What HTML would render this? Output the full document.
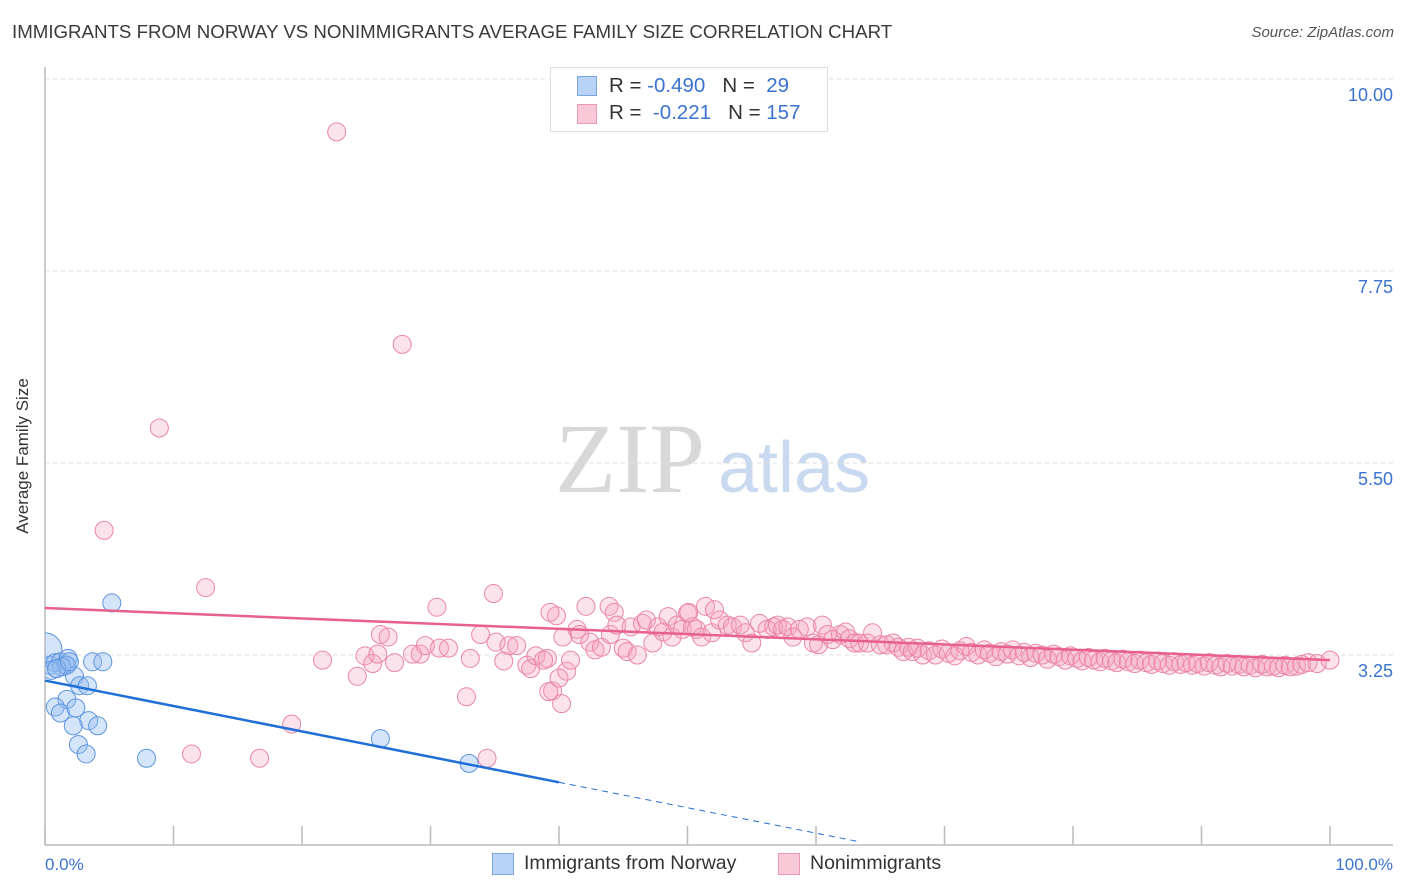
<!DOCTYPE html>
<html><head><meta charset="utf-8"><style>
body{margin:0;background:#fff;font-family:"Liberation Sans",sans-serif;}
#wrap{position:relative;width:1406px;height:892px;overflow:hidden;}
.t{position:absolute;white-space:nowrap;}
</style></head><body>
<div id="wrap">
<div class="t" style="left:12px;top:21px;font-size:18.7px;color:#3a3a3a;">IMMIGRANTS FROM NORWAY VS NONIMMIGRANTS AVERAGE FAMILY SIZE CORRELATION CHART</div>
<div class="t" style="right:12px;top:24px;font-size:15px;color:#555;font-style:italic;">Source: ZipAtlas.com</div>
<svg id="svg" width="1406" height="892" style="position:absolute;left:0;top:0">
<defs><clipPath id="clip"><rect x="45" y="60" width="1360" height="785"/></clipPath></defs>
<text x="555" y="492" font-family="Liberation Serif,serif" font-size="100" fill="#d8d8d8">ZIP</text>
<text x="718" y="492" font-family="Liberation Sans,sans-serif" font-size="72" fill="#c8d9f0">atlas</text>
<g id="grid"></g><g id="axes"></g><g id="pts" clip-path="url(#clip)"></g><g id="trend"></g>
<text x="28" y="456" transform="rotate(-90 28 456)" text-anchor="middle" font-size="17" fill="#333">Average Family Size</text>
<text x="45" y="870" font-size="17" fill="#3b73d0">0.0%</text>
<text x="1393" y="870" text-anchor="end" font-size="17" fill="#3b73d0">100.0%</text>
</svg>
<div style="position:absolute;left:550px;top:67px;width:276px;height:63px;border:1px solid #ddd;background:#fff;font-size:20.5px;">
 <div style="position:absolute;left:26px;top:8px;width:18px;height:18px;background:#b9d3f6;border:1px solid #7aa6e6;"></div>
 <div class="t" style="left:58px;top:6px;color:#333;">R = <span style="color:#3b73d0">-0.490</span>&nbsp;&nbsp;&nbsp;N = &nbsp;<span style="color:#3b73d0">29</span></div>
 <div style="position:absolute;left:26px;top:36px;width:18px;height:18px;background:#f9c9d8;border:1px solid #ee9ab6;"></div>
 <div class="t" style="left:58px;top:33px;color:#333;">R = &nbsp;<span style="color:#3b73d0">-0.221</span>&nbsp;&nbsp;&nbsp;N = <span style="color:#3b73d0">157</span></div>
</div>
<div style="position:absolute;left:492px;top:853px;width:20px;height:20px;background:#b9d3f6;border:1px solid #7aa6e6;"></div>
<div class="t" style="left:524px;top:852px;font-size:19.5px;color:#333;">Immigrants from Norway</div>
<div style="position:absolute;left:778px;top:853px;width:20px;height:20px;background:#f9c9d8;border:1px solid #ee9ab6;"></div>
<div class="t" style="left:810px;top:852px;font-size:19.5px;color:#333;">Nonimmigrants</div>
</div>
<script>
const yTicks=[10.00,7.75,5.50,3.25];
const yTickLabels=["10.00","7.75","5.50","3.25"];
const xTicks=[0,10,20,30,40,50,60,70,80,90,100];
const blueX=[0,0.4,0.8,1.2,1.6,1.8,1.7,2.3,2.7,3.3,1.7,0.8,1.2,2.4,3.4,4.1,2.2,2.6,3.2,5.2,3.7,4.5,7.9,26.1,33.0,1.3,0.5,0.9,1.9];
const blueY=[3.31,3.13,3.16,3.17,3.13,3.21,3.13,3.00,2.89,2.89,2.73,2.64,2.57,2.63,2.48,2.42,2.42,2.20,2.09,3.86,3.17,3.17,2.04,2.27,1.98,3.11,3.07,3.09,3.17];
const pinkX=[22.7,27.8,8.9,4.6,12.5,30.5,34.9,39.8,43.9,21.6,24.3,19.2,11.4,16.7,34.4,32.8,39.5,40.2,
24.9,25.5,25.9,26.1,26.7,27.2,28.6,29.2,29.6,30.7,31.4,33.1,33.9,35.1,35.7,36.1,36.7,37.5,37.8,38.2,39.1,
39.3,40.3,38.8,40.0,40.6,40.9,39.2,41.4,41.6,42.1,42.4,42.8,43.3,44.0,44.3,44.5,45.0,45.3,45.6,46.1,46.5,46.8,47.3,47.7,48.1,48.5,48.8,49.2,49.6,50.0,50.1,50.4,50.7,51.1,51.4,51.9,52.1,52.5,53.1,53.5,54.1,54.5,55.0,55.6,56.2,56.7,57.0,57.4,57.8,58.2,58.7,59.3,59.8,60.2,60.5,60.9,61.3,61.9,62.3,62.6,63.0,63.4,64.0,64.4,65.0,65.5,66.0,66.4,66.8,67.2,67.5,67.9,68.3,
68.8,69.3,69.8,70.3,70.8,71.2,71.7,72.1,72.6,73.1,73.5,74.0,74.4,74.9,75.3,75.8,76.2,76.7,77.1,77.6,78.0,78.5,78.9,79.4,79.8,80.3,80.7,81.2,81.6,82.1,82.5,83.0,83.4,83.9,84.3,84.8,85.2,85.7,86.1,86.6,87.0,87.5,87.9,88.4,88.8,89.3,89.7,90.2,90.6,91.1,91.5,92.0,92.4,92.9,93.3,93.8,94.2,94.7,95.1,95.6,96.0,96.5,96.9,97.4,97.8,98.3,99.0,100];
const pinkY=[9.38,6.89,5.91,4.71,4.04,3.81,3.97,3.71,3.82,3.19,3.00,2.44,2.09,2.04,2.04,2.76,2.83,2.68,
3.24,3.15,3.26,3.49,3.46,3.16,3.26,3.26,3.36,3.33,3.33,3.21,3.49,3.40,3.18,3.36,3.36,3.13,3.09,3.24,3.21,
3.75,3.46,3.19,2.98,3.06,3.19,2.82,3.55,3.49,3.82,3.40,3.31,3.34,3.49,3.75,3.60,3.33,3.29,3.58,3.25,3.62,3.66,3.39,3.58,3.52,3.70,3.46,3.60,3.55,3.74,3.75,3.58,3.55,3.46,3.82,3.51,3.78,3.66,3.60,3.58,3.60,3.51,3.39,3.62,3.55,3.58,3.60,3.55,3.58,3.46,3.55,3.58,3.39,3.37,3.60,3.49,3.43,3.49,3.52,3.44,3.39,3.39,3.39,3.51,3.37,3.37,3.39,3.34,3.29,3.34,3.29,3.33,3.25,
3.30,3.25,3.32,3.27,3.24,3.30,3.35,3.28,3.25,3.31,3.27,3.23,3.29,3.26,3.31,3.24,3.28,3.22,3.27,3.25,3.20,3.26,3.23,3.19,3.24,3.21,3.18,3.22,3.19,3.17,3.21,3.18,3.16,3.20,3.17,3.15,3.19,3.16,3.14,3.18,3.15,3.13,3.17,3.14,3.16,3.13,3.15,3.12,3.16,3.13,3.11,3.15,3.12,3.14,3.11,3.13,3.10,3.14,3.11,3.12,3.10,3.13,3.11,3.12,3.14,3.16,3.15,3.19];
const blueTrend=[2.95,-0.0298];
const pinkTrend=[3.80,-0.0061];
const NS="http://www.w3.org/2000/svg";
function sx(p){return 45+p*12.85;}
function sy(v){return 79+(10-v)*85.33;}
function mk(tag,attrs,parent){const e=document.createElementNS(NS,tag);for(const k in attrs)e.setAttribute(k,attrs[k]);document.getElementById(parent).appendChild(e);return e;}
yTicks.forEach((v,i)=>{
 const g=mk('line',{x1:45,x2:1393,y1:sy(v),y2:sy(v),stroke:'#ddd','stroke-dasharray':'4,4'},'grid');
 
 
 const t=mk('text',{x:1393,y:sy(v)+22,'text-anchor':'end','font-size':18,fill:'#3b73d0'},'grid');
 t.textContent=yTickLabels[i];
 
 
});
const ax=mk('line',{x1:45,x2:45,y1:67,y2:845,stroke:'#bbb','stroke-width':1.5},'axes');


const bx=mk('line',{x1:45,x2:1393,y1:845,y2:845,stroke:'#bbb','stroke-width':1.5},'axes');


xTicks.forEach(p=>{
 const t=mk('line',{x1:sx(p),x2:sx(p),y1:826,y2:845,stroke:'#bbb','stroke-width':1.5},'axes');
 
 
});
pinkX.forEach((p,i)=>{
 const c=mk('circle',{cx:sx(p),cy:sy(pinkY[i]),r:9,fill:'rgba(246,160,190,0.3)',stroke:'#ea86a8','stroke-width':1},'pts');
 
 
});
blueX.forEach((p,i)=>{
 const c=mk('circle',{cx:sx(p),cy:sy(blueY[i]),r:i===0?17:9,fill:'rgba(150,190,240,0.4)',stroke:'#5b93e0','stroke-width':1},'pts');
 
 
});
const pl=mk('line',{x1:sx(0),y1:sy(pinkTrend[0]),x2:sx(100),y2:sy(pinkTrend[0]+pinkTrend[1]*100),stroke:'#e8608c','stroke-width':2.5},'trend');


const bl=mk('line',{x1:sx(0),y1:sy(blueTrend[0]),x2:sx(40),y2:sy(blueTrend[0]+blueTrend[1]*40),stroke:'#1f6fd6','stroke-width':2.5},'trend');


const bd=mk('line',{x1:sx(40),y1:sy(blueTrend[0]+blueTrend[1]*40),x2:sx(63.4),y2:sy(blueTrend[0]+blueTrend[1]*63.4),stroke:'#1f6fd6','stroke-width':1,'stroke-dasharray':'6,5'},'trend');


</script>
</body></html>
